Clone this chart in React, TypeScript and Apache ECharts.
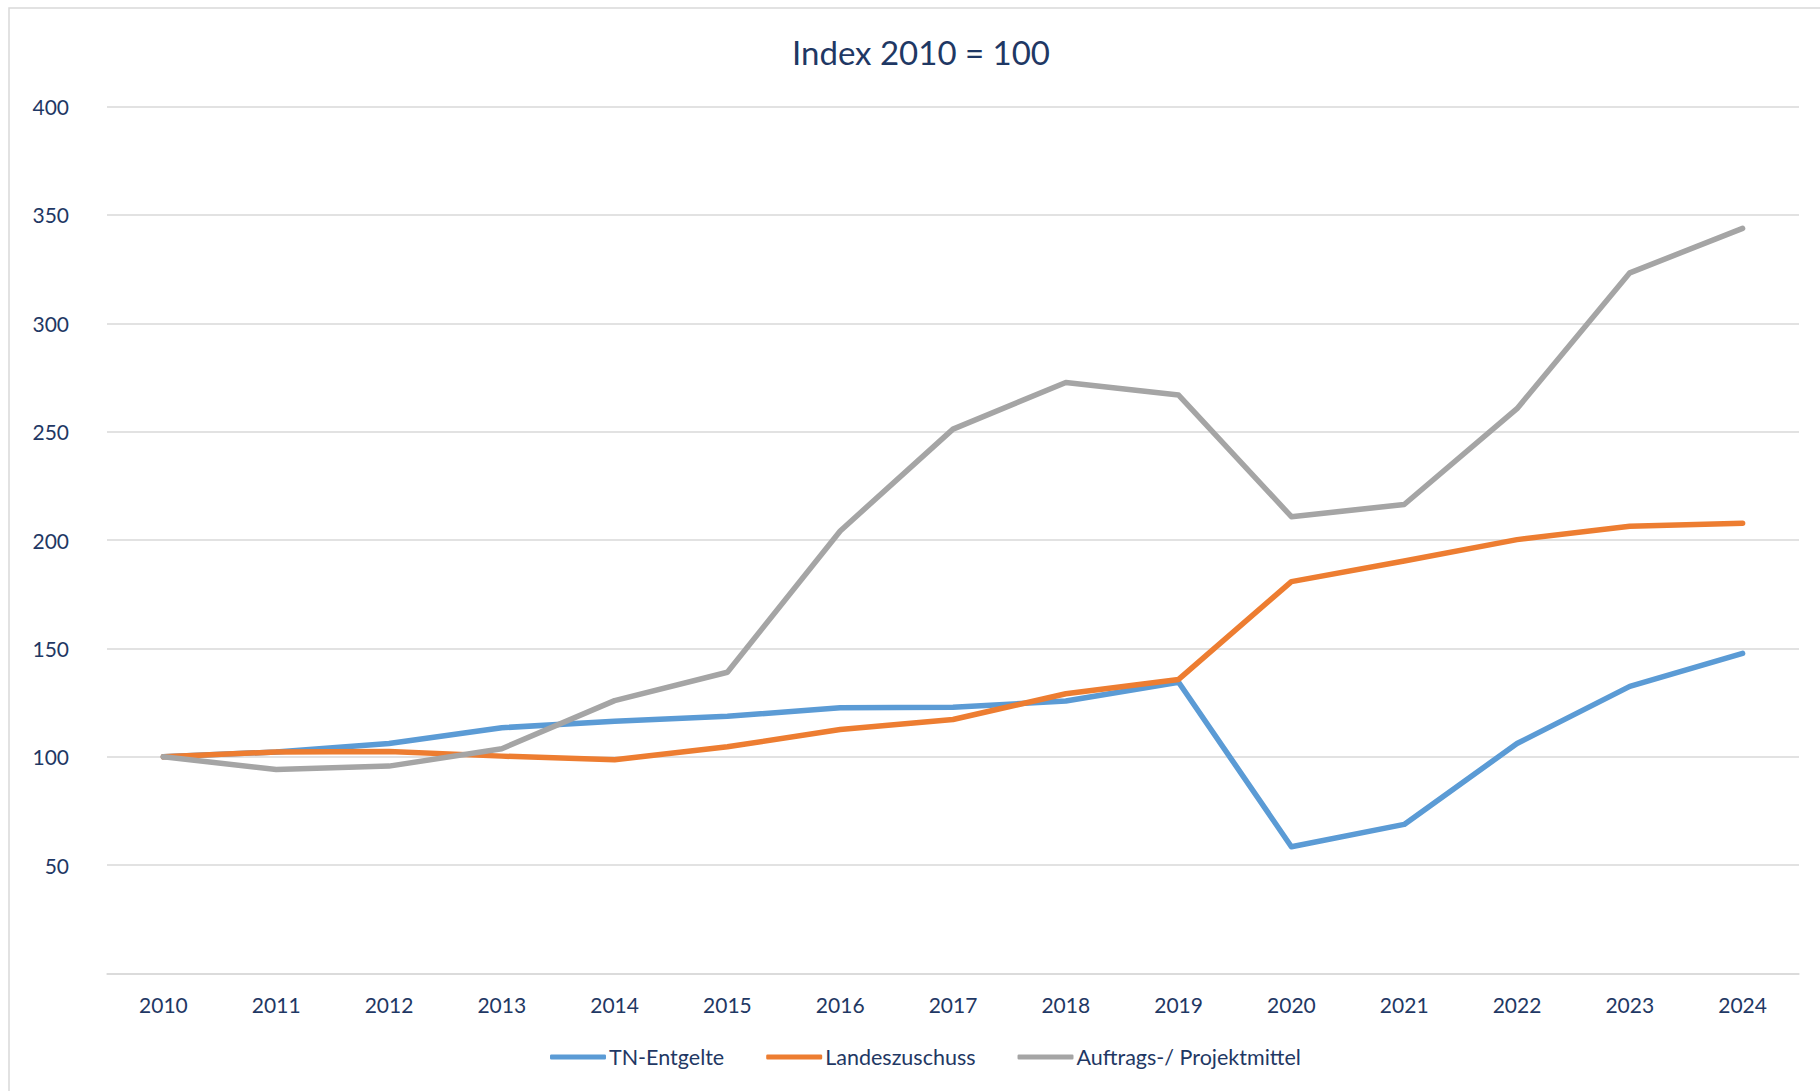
import React, { useEffect, useRef } from "react";
import * as echarts from "echarts";

const years = ["2010", "2011", "2012", "2013", "2014", "2015", "2016", "2017", "2018", "2019", "2020", "2021", "2022", "2023", "2024"];
const tnEntgelte = [100, 102.2, 106.1, 113.4, 116.4, 118.7, 122.6, 122.9, 125.7, 134.4, 58.5, 68.8, 106.1, 132.5, 147.7];
const landeszuschuss = [100, 102.2, 102.4, 100.3, 98.6, 104.6, 112.6, 117.2, 129.1, 135.7, 180.8, 190.3, 200.2, 206.4, 207.8];
const auftragsmittel = [100, 94.1, 95.7, 103.7, 125.9, 139.0, 204.2, 251.2, 272.7, 266.9, 210.8, 216.4, 260.6, 323.3, 343.8];
const seriesNames = ["TN-Entgelte", "Landeszuschuss", "Auftrags-/ Projektmittel"];
const colors = ["#5B9BD5", "#ED7D31", "#A5A5A5"];

const TEXT = "#1F3864";
const FONT = "Lato";

export default function App() {
  const ref = useRef<HTMLDivElement>(null);
  useEffect(() => {
    if (!ref.current) return;
    const chart = echarts.init(ref.current, null, { renderer: "svg" });
    const data = [tnEntgelte, landeszuschuss, auftragsmittel];
    chart.setOption({
      animation: false,
      backgroundColor: "#ffffff",
      title: {
        text: "Index 2010 = 100",
        left: 916,
        textAlign: "center",
        top: 30,
        textStyle: { color: TEXT, fontFamily: FONT, fontSize: 33, fontWeight: "normal" },
      },
      graphic: [
        {
          type: "rect",
          shape: { x: 9, y: 8, width: 1830, height: 1100 },
          style: { fill: "none", stroke: "#D9D9D9", lineWidth: 1.5 },
          silent: true,
        },
      ],
      legend: {
        data: seriesNames,
        left: 545,
        top: 1041,
        icon: "roundRect",
        itemWidth: 56,
        itemHeight: 5,
        itemGap: 42,
        textStyle: { color: TEXT, fontFamily: FONT, fontSize: 21.5, padding: [0, 0, 0, -2] },
      },
      grid: { left: 107, right: 21, top: 106.6, bottom: 117.5, containLabel: false },
      xAxis: {
        type: "category",
        data: years,
        boundaryGap: true,
        axisTick: { show: false },
        axisLine: { lineStyle: { color: "#D9D9D9", width: 1.5 } },
        axisLabel: { color: TEXT, fontFamily: FONT, fontSize: 21, margin: 20 },
      },
      yAxis: {
        type: "value",
        min: 0,
        max: 400,
        interval: 50,
        axisLine: { show: false },
        axisTick: { show: false },
        splitLine: { lineStyle: { color: "#D9D9D9", width: 1.5 } },
        axisLabel: {
          color: TEXT,
          fontFamily: FONT,
          fontSize: 21,
          margin: 38,
          formatter: (v: number) => (v === 0 ? "" : String(v)),
        },
      },
      series: seriesNames.map((name, i) => ({
        name,
        type: "line",
        data: data[i],
        showSymbol: false,
        symbol: "none",
        color: colors[i],
        lineStyle: { width: 5.5, color: colors[i], cap: "round", join: "round" },
      })),
    });
    return () => chart.dispose();
  }, []);
  return (
    <div
      ref={ref}
      style={{ position: "fixed", left: 0, top: 0, width: 1820, height: 1091 }}
    />
  );
}
